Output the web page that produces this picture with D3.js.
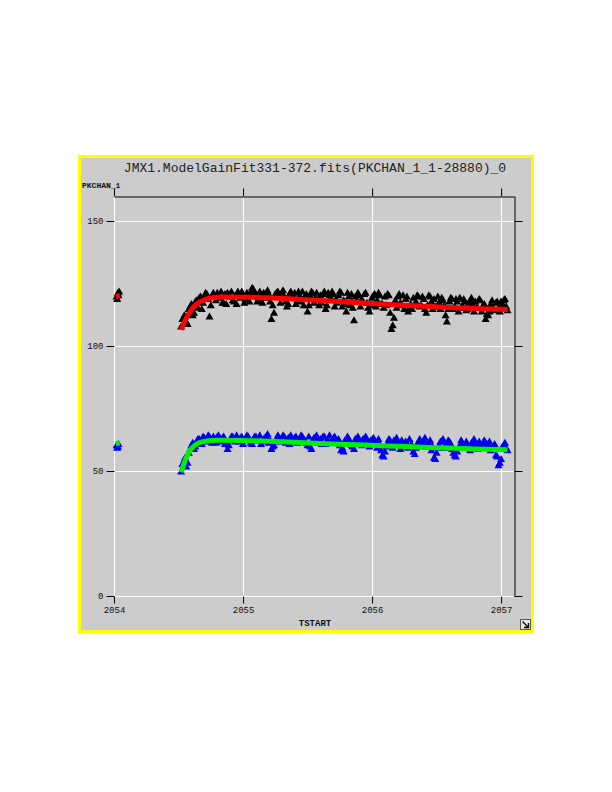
<!DOCTYPE html>
<html>
<head>
<meta charset="utf-8">
<script src="https://cdn.jsdelivr.net/npm/d3@7"></script>
<style>
  html, body { margin: 0; padding: 0; background: #ffffff; }
  svg { display: block; }
</style>
</head>
<body>
<svg id="chart" width="612" height="792"></svg>
<script>
// ---------------- data ----------------
const title = "JMX1.ModelGainFit331-372.fits(PKCHAN_1_1-28880)_0";
const yLabel = "PKCHAN_1";
const xLabel = "TSTART";
const xTicks = [2054, 2055, 2056, 2057];
const yTicks = [0, 50, 100, 150];

// black triangles: [TSTART, PKCHAN_1]
const blackPoints = [
  [2054.02,119.5],[2054.03,121],[2054.035,120],[2054.025,118.5],[2054.04,121.5],
  [2054.52,107.5],[2054.53,110.5],[2054.545,112],[2054.56,109.5],[2054.58,114.5],[2054.60,116.5],
  [2054.62,113],[2054.64,118],[2054.66,119],[2054.68,114.5],[2054.70,119.5],[2054.72,120.5],
  [2054.74,111.5],[2054.76,119.5],[2054.78,120],[2054.80,121],[2054.82,119],[2054.84,117],
  [2054.86,120.5],[2054.88,121],[2054.90,119.5],[2054.92,118],[2054.94,120],[2054.96,121.5],
  [2054.98,119],[2055.00,120.5],[2055.02,118.5],[2055.04,120],[2055.06,121],[2055.08,122.5],
  [2055.10,120],[2055.12,118.5],[2055.14,120.5],[2055.16,121],[2055.18,119],[2055.20,120.5],
  [2055.22,110.5],[2055.24,113],[2055.26,121],[2055.28,120],[2055.30,121],[2055.32,119.5],
  [2055.34,115.5],[2055.36,120.5],[2055.38,119],[2055.40,121],[2055.42,118],[2055.44,120],
  [2055.46,121.5],[2055.48,119.5],[2055.50,113.5],[2055.52,120],[2055.54,121],[2055.56,119],
  [2055.58,118],[2055.60,120],[2055.62,120.5],[2055.64,114.5],[2055.66,121],[2055.68,119],
  [2055.70,120.5],[2055.72,118.5],[2055.74,120],[2055.76,121],[2055.78,118],[2055.80,113.5],
  [2055.82,119.5],[2055.84,120.5],[2055.86,110],[2055.88,117.5],[2055.90,120],[2055.92,118.5],
  [2055.94,120.5],[2055.96,117],[2055.98,113.5],[2056.00,119],[2056.02,120.5],[2056.04,118],
  [2056.06,120],[2056.08,116.5],[2056.10,119.5],[2056.12,120.5],[2056.14,113],[2056.16,108],
  [2056.18,118],[2056.20,119.5],[2056.22,117],[2056.24,120],[2056.26,118.5],[2056.28,113.5],
  [2056.30,116.5],[2056.32,119],[2056.34,117.5],[2056.36,119.5],[2056.38,116],[2056.40,118.5],
  [2056.42,113],[2056.44,120],[2056.46,117.5],[2056.48,118.5],[2056.50,115.5],[2056.52,117],
  [2056.54,119],[2056.56,116],[2056.58,109.5],[2056.60,117.5],[2056.62,118.5],[2056.64,115.5],
  [2056.66,117.5],[2056.68,119],[2056.70,116],[2056.72,117.5],[2056.74,114.5],[2056.76,118],
  [2056.78,116.5],[2056.80,117.5],[2056.82,115],[2056.84,118],[2056.86,116],[2056.88,110.5],
  [2056.90,112],[2056.92,116.5],[2056.94,114.5],[2056.96,117],[2056.98,115],[2057.00,117.5],
  [2057.02,118],[2057.04,115.5],[2057.05,114]
];
const blackPoints2 = [
  [2054.55,111.5],[2054.57,108.5],[2054.59,115.5],[2054.61,112],[2054.63,117.5],[2054.65,115],
  [2054.67,119.5],[2054.69,117],[2054.71,121],[2054.73,118.5],[2054.75,116],[2054.77,121],
  [2054.79,118],[2054.81,120],[2054.83,121.5],[2054.85,117],[2054.87,116.5],[2054.89,120],
  [2054.91,121.5],[2054.93,117.5],[2054.95,116.5],[2054.97,120],[2054.99,121.5],[2055.01,117],
  [2055.03,121],[2055.05,117.5],[2055.07,123],[2055.09,121],[2055.11,117.5],[2055.13,121.5],
  [2055.15,117],[2055.17,120.5],[2055.19,122],[2055.21,117.5],[2055.23,116],[2055.25,120.5],
  [2055.27,121.5],[2055.29,117],[2055.31,122],[2055.33,117.5],[2055.35,116.5],[2055.37,121.5],
  [2055.39,120],[2055.41,116.5],[2055.43,121.5],[2055.45,117.5],[2055.47,116],[2055.49,120.5],
  [2055.51,116],[2055.53,121.5],[2055.55,117],[2055.57,121],[2055.59,116],[2055.61,117],
  [2055.63,121.5],[2055.65,116],[2055.67,120],[2055.69,121.5],[2055.71,115.5],[2055.73,117],
  [2055.75,121.5],[2055.77,115.5],[2055.79,116.5],[2055.81,121],[2055.83,116],[2055.85,115],
  [2055.87,119.5],[2055.89,121],[2055.91,115.5],[2055.93,117.5],[2055.95,121],[2055.97,115],
  [2055.99,116],[2056.01,120],[2056.03,115.5],[2056.05,121],[2056.07,116.5],[2056.09,115],
  [2056.11,116],[2056.13,120],[2056.15,106.5],[2056.17,111],[2056.19,115],[2056.21,120.5],
  [2056.23,116],[2056.25,114.5],[2056.27,119.5],[2056.29,115],[2056.31,114.5],[2056.33,116],
  [2056.35,120],[2056.37,115.5],[2056.39,119.5],[2056.41,114.5],[2056.43,116],[2056.45,119.5],
  [2056.47,114.5],[2056.49,115.5],[2056.51,119.5],[2056.53,114.5],[2056.55,118],[2056.57,112],
  [2056.59,114.5],[2056.61,119],[2056.63,114.5],[2056.65,118.5],[2056.67,113.5],[2056.69,115],
  [2056.71,118.5],[2056.73,114],[2056.75,117],[2056.77,119],[2056.79,113.5],[2056.81,115],
  [2056.83,118.5],[2056.85,113.5],[2056.87,116.5],[2056.89,112.5],[2056.91,113.5],[2056.93,118],
  [2056.95,114],[2056.97,117.5],[2056.99,113.5],[2057.01,116.5],[2057.03,118.5]
];

// blue triangles: [TSTART, PKCHAN_1]
const bluePoints = [
  [2054.02,60],[2054.03,59.5],[2054.035,60.5],[2054.025,59],
  [2054.52,49.5],[2054.53,52.5],[2054.545,54],[2054.56,51.5],[2054.58,57],[2054.60,60],
  [2054.62,58.5],[2054.64,61.5],[2054.66,62.5],[2054.68,60.5],[2054.70,63],[2054.72,62],
  [2054.74,63.5],[2054.76,61],[2054.78,62.5],[2054.80,63.5],[2054.82,61.5],[2054.84,63],
  [2054.86,60.5],[2054.88,58.5],[2054.90,62],[2054.92,63.5],[2054.94,61.5],[2054.96,62.5],
  [2054.98,63],[2055.00,60.5],[2055.02,62],[2055.04,63.5],[2055.06,61],[2055.08,62.5],
  [2055.10,63.5],[2055.12,62],[2055.14,60.5],[2055.16,62.5],[2055.18,63.5],[2055.20,61],
  [2055.22,58.5],[2055.24,60],[2055.26,62.5],[2055.28,63],[2055.30,61.5],[2055.32,63.5],
  [2055.34,62],[2055.36,60.5],[2055.38,62.5],[2055.40,63],[2055.42,61],[2055.44,62],
  [2055.46,63.5],[2055.48,61.5],[2055.50,60],[2055.52,59.5],[2055.54,62],[2055.56,63],
  [2055.58,61],[2055.60,62.5],[2055.62,63.5],[2055.64,60.5],[2055.66,62],[2055.68,61],
  [2055.70,63],[2055.72,61.5],[2055.74,62.5],[2055.76,58],[2055.78,57.5],[2055.80,61],
  [2055.82,62.5],[2055.84,60],[2055.86,58.5],[2055.88,61.5],[2055.90,62.5],[2055.92,60],
  [2055.94,61],[2055.96,62.5],[2055.98,59.5],[2056.00,61],[2056.02,62],[2056.04,59],
  [2056.06,60.5],[2056.08,56],[2056.10,57.5],[2056.12,61],[2056.14,62],[2056.16,59],
  [2056.18,60.5],[2056.20,61.5],[2056.22,58.5],[2056.24,60.5],[2056.26,61.5],[2056.28,59],
  [2056.30,60],[2056.32,57.5],[2056.34,59],[2056.36,61.5],[2056.38,60],[2056.40,62],
  [2056.42,59.5],[2056.44,61],[2056.46,58],[2056.48,55],[2056.50,57],[2056.52,60],
  [2056.54,61.5],[2056.56,59],[2056.58,60.5],[2056.60,61.5],[2056.62,58.5],[2056.64,56],
  [2056.66,57.5],[2056.68,60],[2056.70,61],[2056.72,59],[2056.74,60.5],[2056.76,58],
  [2056.78,59.5],[2056.80,61],[2056.82,58.5],[2056.84,60],[2056.86,61],[2056.88,59],
  [2056.90,60.5],[2056.92,58],[2056.94,59.5],[2056.96,56],[2056.98,52],[2057.00,54.5],
  [2057.02,60],[2057.04,59],[2057.05,58]
];
const bluePoints2 = [
  [2054.55,55],[2054.57,53],[2054.59,58.5],[2054.61,61],[2054.63,59.5],[2054.65,62.5],
  [2054.67,61],[2054.69,63.5],[2054.71,61.5],[2054.73,64],[2054.75,62.5],[2054.77,63.5],
  [2054.79,61],[2054.81,64],[2054.83,62],[2054.85,63.5],[2054.87,61.5],[2054.89,60],
  [2054.91,63.5],[2054.93,62],[2054.95,64],[2054.97,61.5],[2054.99,63.5],[2055.01,62],
  [2055.03,64],[2055.05,62.5],[2055.07,60.5],[2055.09,63.5],[2055.11,62],[2055.13,64],
  [2055.15,61.5],[2055.17,63],[2055.19,64.5],[2055.21,62],[2055.23,59.5],[2055.25,61.5],
  [2055.27,64],[2055.29,62.5],[2055.31,64],[2055.33,61],[2055.35,63],[2055.37,64],
  [2055.39,61.5],[2055.41,63.5],[2055.43,62],[2055.45,64],[2055.47,62.5],[2055.49,61],
  [2055.51,63.5],[2055.53,58.5],[2055.55,63],[2055.57,64],[2055.59,62],[2055.61,60.5],
  [2055.63,63.5],[2055.65,62],[2055.67,64],[2055.69,61.5],[2055.71,63.5],[2055.73,62],
  [2055.75,60],[2055.77,59],[2055.79,62],[2055.81,63.5],[2055.83,61.5],[2055.85,59.5],
  [2055.87,62.5],[2055.89,63.5],[2055.91,61],[2055.93,62.5],[2055.95,63.5],[2055.97,60.5],
  [2055.99,62],[2056.01,63],[2056.03,60.5],[2056.05,62.5],[2056.07,58],[2056.09,55.5],
  [2056.11,59.5],[2056.13,62.5],[2056.15,60.5],[2056.17,62],[2056.19,63],[2056.21,60],
  [2056.23,62],[2056.25,59.5],[2056.27,61],[2056.29,62.5],[2056.31,60],[2056.33,56.5],
  [2056.35,60.5],[2056.37,62.5],[2056.39,61],[2056.41,63],[2056.43,60.5],[2056.45,62],
  [2056.47,59.5],[2056.49,54.5],[2056.51,59],[2056.53,61.5],[2056.55,62.5],[2056.57,60],
  [2056.59,62],[2056.61,60.5],[2056.63,57],[2056.65,55.5],[2056.67,59],[2056.69,62],
  [2056.71,60],[2056.73,61.5],[2056.75,59.5],[2056.77,61],[2056.79,62.5],[2056.81,60],
  [2056.83,61.5],[2056.85,59],[2056.87,62],[2056.89,60.5],[2056.91,61.5],[2056.93,59],
  [2056.95,60.5],[2056.97,55.5],[2056.99,53],[2057.01,59.5],[2057.03,61]
];

// model fits
const redFitEarly = [[2054.015,119.8],[2054.045,120.2]];
const redFit = [
  [2054.52,106.5],[2054.55,110],[2054.58,113],[2054.62,115.8],[2054.66,117.5],[2054.70,118.5],
  [2054.75,119.2],[2054.85,119.6],[2055.00,119.5],[2055.20,119.3],[2055.40,118.8],[2055.60,118.2],
  [2055.80,117.6],[2056.00,117.0],[2056.20,116.4],[2056.40,115.9],[2056.60,115.4],[2056.80,115.0],
  [2057.05,114.6]
];
const greenFitEarly = [[2054.015,61],[2054.045,61.2]];
const greenFit = [
  [2054.52,49.5],[2054.55,54],[2054.58,57.5],[2054.62,60],[2054.66,61.3],[2054.72,62],
  [2054.80,62.3],[2055.00,62.2],[2055.20,61.9],[2055.40,61.5],[2055.60,61.0],[2055.80,60.6],
  [2056.00,60.3],[2056.20,59.9],[2056.40,59.5],[2056.60,59.2],[2056.80,58.8],[2057.05,58.5]
];

// ---------------- drawing ----------------
const svg = d3.select("#chart");
const mono = "'Liberation Mono', 'DejaVu Sans Mono', monospace";

// outer panel
svg.append("rect")
  .attr("x", 79.5).attr("y", 156.5).attr("width", 453).attr("height", 475)
  .attr("fill", "#cccccc").attr("stroke", "#ffff00").attr("stroke-width", 3);

svg.append("text")
  .attr("x", 315).attr("y", 172).attr("text-anchor", "middle")
  .attr("font-family", mono).attr("font-size", 13).attr("fill", "#222")
  .text(title);

svg.append("text")
  .attr("x", 82).attr("y", 188)
  .attr("font-family", mono).attr("font-size", 8).attr("font-weight", "bold").attr("fill", "#111")
  .text(yLabel);

const x = d3.scaleLinear().domain([2054, 2057.1]).range([114, 514]);
const y = d3.scaleLinear().domain([0, 160]).range([596, 196]);

// grid
const grid = svg.append("g").attr("stroke", "#ffffff").attr("stroke-width", 1);
grid.selectAll("line.v").data(xTicks).join("line").attr("class", "v")
  .attr("x1", d => Math.round(x(d)) + 0.5).attr("x2", d => Math.round(x(d)) + 0.5)
  .attr("y1", y(160)).attr("y2", y(0));
grid.selectAll("line.h").data(yTicks).join("line").attr("class", "h")
  .attr("x1", x(2054)).attr("x2", x(2057.1))
  .attr("y1", d => Math.round(y(d)) + 0.5).attr("y2", d => Math.round(y(d)) + 0.5);

function styleAxis(g, showLabels, keepDomain) {
  g.selectAll("text").attr("font-family", mono).attr("font-size", 9).attr("fill", "#111");
  if (!showLabels) g.selectAll("text").remove();
  if (!keepDomain) g.select(".domain").remove();
  g.select(".domain").attr("stroke", "#000");
  g.selectAll(".tick line").attr("stroke", "#000");
}

svg.append("g").attr("transform", `translate(${x(2054) + 0.5},0)`)
  .call(d3.axisLeft(y).tickValues(yTicks).tickSize(8).tickPadding(3).tickFormat(d3.format("d")))
  .call(g => styleAxis(g, true, false));

svg.append("g").attr("transform", `translate(0,${y(0) + 0.5})`)
  .call(d3.axisBottom(x).tickValues(xTicks).tickSize(7).tickPadding(3).tickFormat(d3.format("d")))
  .call(g => styleAxis(g, true, false));

svg.append("g").attr("transform", `translate(0,${y(160) + 0.5})`)
  .call(d3.axisTop(x).tickValues(xTicks).tickSize(8).tickSizeOuter(0))
  .call(g => styleAxis(g, false, true));

svg.append("g").attr("transform", `translate(${x(2057.1) + 0.5},0)`)
  .call(d3.axisRight(y).tickValues(yTicks).tickSize(8).tickSizeOuter(0))
  .call(g => styleAxis(g, false, true));

svg.append("text")
  .attr("x", 315).attr("y", 626).attr("text-anchor", "middle")
  .attr("font-family", mono).attr("font-size", 9).attr("font-weight", "bold").attr("fill", "#111")
  .text(xLabel);

// resize icon
svg.append("rect").attr("x", 520.5).attr("y", 619.5).attr("width", 10).attr("height", 10)
  .attr("fill", "#e6e6e6").attr("stroke", "#555").attr("stroke-width", 1);
svg.append("path").attr("d", "M522.5,621.5 L528.5,627.5 M528.5,623 L528.5,627.5 L524,627.5")
  .attr("fill", "none").attr("stroke", "#000").attr("stroke-width", 1.3);

// points
const tri = d3.symbol().type(d3.symbolTriangle).size(28);
function drawPts(data, color) {
  svg.append("g").selectAll("path").data(data).join("path")
    .attr("d", tri).attr("fill", color)
    .attr("transform", d => `translate(${x(d[0])},${y(d[1])})`);
}
drawPts(bluePoints, "#0000ee");
drawPts(bluePoints2, "#0000ee");
drawPts(blackPoints, "#000000");
drawPts(blackPoints2, "#000000");

// fits
const line = d3.line().x(d => x(d[0])).y(d => y(d[1])).curve(d3.curveMonotoneX);
[[redFitEarly, "#ff0000"], [redFit, "#ff0000"], [greenFitEarly, "#00ee00"], [greenFit, "#00ee00"]]
  .forEach(([data, color]) => {
    svg.append("path").datum(data).attr("d", line)
      .attr("fill", "none").attr("stroke", color).attr("stroke-width", 5)
      .attr("stroke-linecap", "butt").attr("stroke-linejoin", "round");
  });
</script>
</body>
</html>
